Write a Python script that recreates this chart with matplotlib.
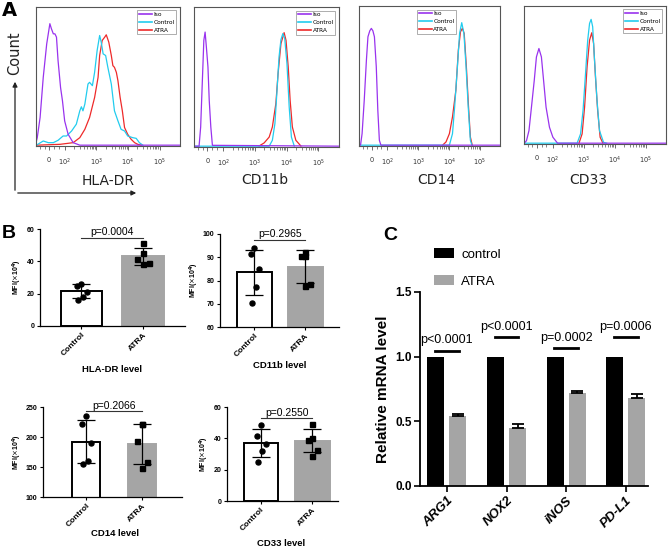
import numpy as np
import matplotlib
matplotlib.use("Agg")
import matplotlib.pyplot as plt

# ---------------- data: panel A (flow histograms) ----------------
# x in "display decades": 0 -> 0, 1e2 -> 0.5, 1e3 -> 1.5, 1e4 -> 2.5, 1e5 -> 3.5
# y as fraction of the histogram box height
hla_iso_x = [-0.42, -0.38, -0.29, -0.19, -0.08, 0.02, 0.07, 0.13, 0.18, 0.23, 0.28, 0.36, 0.42, 0.49, 0.6, 0.76, 0.97, 4.15]
hla_iso_y = [0.024, 0.06, 0.205, 0.494, 0.735, 0.88, 0.843, 0.807, 0.807, 0.783, 0.614, 0.42, 0.325, 0.18, 0.084, 0.024, 0.006, 0.006]
hla_ctrl_x = [-0.4, -0.19, -0.03, 0.13, 0.28, 0.44, 0.55, 0.71, 0.86, 0.97, 1.02, 1.07, 1.13, 1.23, 1.28, 1.37, 1.44, 1.52, 1.6, 1.65, 1.71, 1.79, 1.86, 1.97, 2.07, 2.18, 2.28, 2.39, 2.49, 2.65, 2.76, 2.86, 2.97]
hla_ctrl_y = [0.007, 0.036, 0.024, 0.024, 0.041, 0.072, 0.072, 0.108, 0.157, 0.253, 0.282, 0.253, 0.301, 0.446, 0.458, 0.434, 0.53, 0.687, 0.795, 0.747, 0.663, 0.651, 0.566, 0.446, 0.253, 0.181, 0.12, 0.108, 0.072, 0.06, 0.055, 0.024, 0.006]
hla_atra_x = [-0.4, 0.34, 0.76, 0.97, 1.13, 1.28, 1.44, 1.55, 1.6, 1.68, 1.76, 1.81, 1.89, 1.97, 2.02, 2.07, 2.13, 2.18, 2.25, 2.32, 2.39, 2.49, 2.6, 2.71, 2.81, 2.92]
hla_atra_y = [0.006, 0.012, 0.024, 0.06, 0.12, 0.205, 0.349, 0.494, 0.651, 0.759, 0.783, 0.8, 0.747, 0.651, 0.578, 0.566, 0.53, 0.47, 0.349, 0.253, 0.133, 0.084, 0.048, 0.024, 0.012, 0.006]

cd11b_iso_x = [-0.42, -0.26, -0.21, -0.16, -0.11, -0.07, -0.03, 0.02, 0.06, 0.11, 0.16, 4.15]
cd11b_iso_y = [0.006, 0.006, 0.143, 0.452, 0.762, 0.821, 0.714, 0.571, 0.333, 0.143, 0.012, 0.006]
cd11b_ctrl_x = [-0.42, 1.95, 2.05, 2.13, 2.19, 2.26, 2.32, 2.38, 2.44, 2.51, 2.58, 2.65, 2.74]
cd11b_ctrl_y = [0.006, 0.006, 0.048, 0.167, 0.381, 0.643, 0.767, 0.81, 0.774, 0.595, 0.286, 0.071, 0.007]
cd11b_atra_x = [1.63, 1.79, 1.95, 2.05, 2.16, 2.23, 2.32, 2.42, 2.48, 2.55, 2.61, 2.68, 2.79, 2.95]
cd11b_atra_y = [0.007, 0.029, 0.071, 0.143, 0.31, 0.524, 0.738, 0.817, 0.762, 0.571, 0.333, 0.143, 0.048, 0.007]

cd14_iso_x = [-0.42, -0.37, -0.32, -0.25, -0.18, -0.13, -0.07, -0.02, 0.03, 0.08, 0.14, 0.19, 0.24, 0.29, 4.15]
cd14_iso_y = [0.006, 0.006, 0.088, 0.327, 0.613, 0.78, 0.823, 0.84, 0.823, 0.78, 0.566, 0.255, 0.041, 0.006, 0.006]
cd14_ctrl_x = [-0.42, 2.51, 2.61, 2.68, 2.77, 2.84, 2.91, 2.98, 3.05, 3.12, 3.19, 3.24]
cd14_ctrl_y = [0.006, 0.006, 0.088, 0.279, 0.566, 0.804, 0.881, 0.804, 0.566, 0.279, 0.041, 0.006]
cd14_atra_x = [2.29, 2.4, 2.51, 2.61, 2.72, 2.8, 2.87, 2.93, 2.99, 3.06, 3.13, 3.19, 3.25]
cd14_atra_y = [0.006, 0.029, 0.088, 0.208, 0.399, 0.685, 0.816, 0.84, 0.804, 0.566, 0.279, 0.064, 0.006]

cd33_iso_x = [-0.41, -0.34, -0.26, -0.18, -0.09, -0.02, 0.06, 0.14, 0.22, 0.29, 0.4, 0.51, 0.66, 4.15]
cd33_iso_y = [0.006, 0.024, 0.097, 0.267, 0.461, 0.631, 0.692, 0.631, 0.437, 0.267, 0.121, 0.049, 0.006, 0.006]
cd33_ctrl_x = [-0.41, 1.29, 1.4, 1.48, 1.56, 1.63, 1.69, 1.74, 1.79, 1.85, 1.93, 2.01, 2.14, 2.24]
cd33_ctrl_y = [0.006, 0.006, 0.073, 0.243, 0.51, 0.752, 0.874, 0.903, 0.85, 0.607, 0.316, 0.097, 0.012, 0.006]
cd33_atra_x = [1.35, 1.45, 1.53, 1.61, 1.69, 1.76, 1.82, 1.88, 1.95, 2.03, 2.12]
cd33_atra_y = [0.006, 0.073, 0.267, 0.558, 0.752, 0.806, 0.728, 0.485, 0.243, 0.049, 0.006]

flow_markers = ["HLA-DR", "CD11b", "CD14", "CD33"]
flow_tick_labels = ["0", r"$10^2$", r"$10^3$", r"$10^4$", r"$10^5$"]

# ---------------- data: panel B (MFI) ----------------
mfi_titles = ["HLA-DR level", "CD11b level", "CD14 level", "CD33 level"]
mfi_groups = ["Control", "ATRA"]
hla_ctrl_pts = [26.1, 24.5, 20.9, 17.8, 16.2]
hla_atra_pts = [51.4, 45.2, 41.2, 39.0, 38.1]
cd11b_ctrl_pts = [93.8, 91.3, 85.0, 77.1, 70.2]
cd11b_atra_pts = [92.1, 90.6, 90.5, 78.5, 77.5]
cd14_ctrl_pts = [235.6, 221.7, 190.0, 160.6, 155.0]
cd14_atra_pts = [222.2, 221.1, 192.8, 158.9, 148.3]
cd33_ctrl_pts = [48.3, 41.3, 36.4, 32.1, 25.1]
cd33_atra_pts = [49.4, 40.0, 38.9, 32.6, 28.9]
mfi_means = [[21.4, 43.2], [83.5, 85.9], [192.5, 188.7], [37.0, 38.4]]
mfi_sds = [[4.3, 5.3], [9.6, 7.1], [35.5, 33.5], [8.7, 7.3]]
mfi_pvals = ["p=0.0004", "p=0.2965", "p=0.2066", "p=0.2550"]
mfi_sig_y = [54.5, 97.5, 243.0, 52.8]

# ---------------- data: panel C (qPCR) ----------------
genes = ["ARG1", "NOX2", "iNOS", "PD-L1"]
ctrl_mrna = [1.0, 1.0, 1.0, 1.0]
atra_mrna = [0.538, 0.451, 0.718, 0.677]
atra_mrna_err = [0.021, 0.028, 0.020, 0.036]
mrna_pvals = ["p<0.0001", "p<0.0001", "p=0.0002", "p=0.0006"]
mrna_sig_y = [1.046, 1.149, 1.064, 1.149]

# ---------------- figure ----------------
W, H = 668, 547
fig = plt.figure(figsize=(W / 100, H / 100), dpi=100)


def rect(x0, y0, x1, y1):
    # pixel box (top-left origin) -> figure fraction
    return [x0 / W, 1 - y1 / H, (x1 - x0) / W, (y1 - y0) / H]


def ftxt(x, y, s, **kw):
    fig.text(x / W, 1 - y / H, s, **kw)


ISO_C, CTRL_C, ATRA_C = "#9933ee", "#22ccee", "#ee2a2a"

# ---- panel A ----
flow_boxes = [(36, 7, 180, 146), (194, 7, 339, 147), (359, 6, 500, 146), (524, 6, 666, 144)]
flow_curves = [
    (hla_iso_x, hla_iso_y, hla_ctrl_x, hla_ctrl_y, hla_atra_x, hla_atra_y),
    (cd11b_iso_x, cd11b_iso_y, cd11b_ctrl_x, cd11b_ctrl_y, cd11b_atra_x, cd11b_atra_y),
    (cd14_iso_x, cd14_iso_y, cd14_ctrl_x, cd14_ctrl_y, cd14_atra_x, cd14_atra_y),
    (cd33_iso_x, cd33_iso_y, cd33_ctrl_x, cd33_ctrl_y, cd33_atra_x, cd33_atra_y),
]
legend_right = [0.975, 0.975, 0.69, 0.975]
label_pos = [(108, 181), (265, 180), (436, 180), (588, 180)]

minor_u = []
for d in (2, 3, 4):
    for k in range(2, 10):
        minor_u.append(d - 1.5 + np.log10(k))
minor_u += [-0.3, -0.15, 0.15, 0.3]

for i, box in enumerate(flow_boxes):
    ax = fig.add_axes(rect(*box))
    ix, iy, cx, cy, ax_, ay = flow_curves[i]
    l3, = ax.plot(ax_, ay, color=ATRA_C, lw=0.9)
    l2, = ax.plot(cx, cy, color=CTRL_C, lw=0.9)
    l1, = ax.plot(ix, iy, color=ISO_C, lw=0.9)
    ax.set_xlim(-0.42, 4.15)
    ax.set_ylim(0, 1.0)
    ax.set_yticks([])
    ax.set_xticks([0, 0.5, 1.5, 2.5, 3.5])
    ax.set_xticklabels(flow_tick_labels, fontsize=4.8, color="#333333")
    ax.set_xticks(minor_u, minor=True)
    ax.tick_params(axis="x", which="major", length=3, width=0.6, pad=5, color="#555555")
    ax.tick_params(axis="x", which="minor", length=2, width=0.5, color="#555555")
    for sp in ax.spines.values():
        sp.set_color("#555555")
        sp.set_linewidth(0.8)
    leg = ax.legend([l1, l2, l3], ["Iso", "Control", "ATRA"], loc="upper right",
                    bbox_to_anchor=(legend_right[i], 0.975), fontsize=4.2, frameon=True,
                    fancybox=False, edgecolor="#888888", handlelength=2.2, borderpad=0.3,
                    labelspacing=0.45, handletextpad=0.3, borderaxespad=0)
    leg.get_frame().set_linewidth(0.6)
    for ln in leg.get_lines():
        ln.set_linewidth(1.2)
    ftxt(label_pos[i][0], label_pos[i][1], flow_markers[i], fontsize=10,
         ha="center", va="center", color="#222222")

ftxt(15, 53, "Count", rotation=90, fontsize=10.5, ha="center", va="center", color="#222222")
fig.add_artist(matplotlib.patches.FancyArrowPatch(
    (15 / W, 1 - 193 / H), (15 / W, 1 - 79 / H), transform=fig.transFigure,
    arrowstyle="-|>", mutation_scale=7, lw=0.9, color="#222222"))
fig.add_artist(matplotlib.patches.FancyArrowPatch(
    (15 / W, 1 - 193 / H), (139 / W, 1 - 193 / H), transform=fig.transFigure,
    arrowstyle="-|>", mutation_scale=7, lw=0.9, color="#222222"))
ftxt(9, 11, "A", fontsize=14, fontweight="bold", ha="center", va="center")

# ---- panel B ----
plt.rcParams["font.family"] = ["Liberation Sans", "DejaVu Sans"]
mfi_boxes = [(40, 229, 185, 326), (220, 234, 339, 327), (43, 407, 182, 497), (227, 407, 338, 501)]
mfi_ylims = [(0, 60), (60, 100), (100, 250), (0, 60)]
mfi_yticks = [[0, 20, 40, 60], [60, 70, 80, 90, 100], [100, 150, 200, 250], [0, 20, 40, 60]]
mfi_xlims = [(-0.67, 1.68), (-0.68, 1.67), (-0.77, 1.71), (-0.66, 1.5)]
mfi_widths = [0.67, 0.69, 0.5, 0.67]
mfi_pts = [(hla_ctrl_pts, hla_atra_pts), (cd11b_ctrl_pts, cd11b_atra_pts),
           (cd14_ctrl_pts, cd14_atra_pts), (cd33_ctrl_pts, cd33_atra_pts)]
title_pos = [(112, 369), (280, 365), (115, 533), (281, 543)]
ctrl_jit = [0.0, -0.07, 0.09, 0.03, -0.05]
atra_jit = [0.0, 0.0, -0.09, 0.09, 0.0]
GRAY = "#a5a5a5"

for i, box in enumerate(mfi_boxes):
    ax = fig.add_axes(rect(*box))
    ax.bar([0, 1], mfi_means[i], width=mfi_widths[i], color=["white", GRAY],
           edgecolor=["black", GRAY], linewidth=1.4, zorder=1)
    ax.errorbar([0, 1], mfi_means[i], yerr=mfi_sds[i], fmt="none", ecolor="black",
                elinewidth=0.9, capsize=6.5, capthick=0.9, zorder=3)
    cp, ap = mfi_pts[i]
    ax.plot(np.array(ctrl_jit) + 0, cp, "o", color="black", ms=3.6, zorder=4, clip_on=False)
    ax.plot(np.array(atra_jit) + 1, ap, "s", color="black", ms=3.6, zorder=4, clip_on=False)
    ax.set_xlim(*mfi_xlims[i])
    ax.set_ylim(*mfi_ylims[i])
    ax.set_yticks(mfi_yticks[i])
    ax.set_xticks([0, 1])
    ax.set_xticklabels(mfi_groups, rotation=45, ha="right", va="top",
                       rotation_mode="anchor", fontsize=6, fontweight="bold")
    for lab in ax.get_yticklabels():
        lab.set_fontsize(5)
        lab.set_fontweight("bold")
    ax.tick_params(length=2.5, width=0.8, pad=1.5)
    ax.spines["top"].set_visible(False)
    ax.spines["right"].set_visible(False)
    ax.spines["left"].set_linewidth(0.9)
    ax.spines["bottom"].set_linewidth(0.9)
    ax.set_ylabel(r"MFI($\times$10$^{\mathbf{4}}$)", fontsize=5, fontweight="bold", labelpad=1.5)
    ax.plot([0, 1], [mfi_sig_y[i], mfi_sig_y[i]], color="#333333", lw=0.8, clip_on=False)
    ax.annotate(mfi_pvals[i], (0.5, mfi_sig_y[i]), xytext=(0, 0.5), textcoords="offset points",
                ha="center", va="bottom", fontsize=7.5, annotation_clip=False)
    ftxt(title_pos[i][0], title_pos[i][1], mfi_titles[i], fontsize=6.8,
         fontweight="bold", ha="center", va="center")

ftxt(9, 233, "B", fontsize=14, fontweight="bold", ha="center", va="center")

# ---- panel C ----
axc = fig.add_axes(rect(420, 292, 648, 486))
xg = np.arange(len(genes))
off, bw = 0.185, 0.285
bc = axc.bar(xg - off, ctrl_mrna, width=bw, color="black", label="control")
ba = axc.bar(xg + off, atra_mrna, width=bw, color=GRAY, label="ATRA")
axc.errorbar(xg + off, atra_mrna, yerr=[np.zeros(len(genes)), atra_mrna_err], fmt="none",
             ecolor="black", elinewidth=1.3, capsize=4, capthick=1.3)
for i in range(len(genes)):
    axc.plot([xg[i] - 0.2, xg[i] + 0.2], [mrna_sig_y[i], mrna_sig_y[i]], color="black", lw=2)
    axc.text(xg[i], mrna_sig_y[i] + 0.035, mrna_pvals[i], ha="center", va="bottom", fontsize=9)
axc.set_xlim(-0.45, 3.37)
axc.set_ylim(0, 1.5)
axc.set_yticks([0, 0.5, 1.0, 1.5])
axc.set_yticklabels(["0.0", "0.5", "1.0", "1.5"], fontsize=8.5, fontweight="bold")
axc.set_xticks(xg)
axc.set_xticklabels(genes, rotation=45, ha="right", va="top", rotation_mode="anchor",
                    fontsize=9.5, fontweight="bold", fontstyle="italic")
axc.tick_params(length=4, width=1.2, pad=2)
axc.spines["top"].set_visible(False)
axc.spines["right"].set_visible(False)
axc.spines["left"].set_linewidth(1.3)
axc.spines["bottom"].set_linewidth(1.3)
axc.set_ylabel("Relative mRNA level", fontsize=11, fontweight="bold", labelpad=4)
axc.legend(handles=[bc, ba], loc="upper left", bbox_to_anchor=(434 / W, 1 - 248 / H),
           bbox_transform=fig.transFigure, frameon=False, fontsize=9.5, handlelength=1.5,
           handleheight=0.8, labelspacing=1.1, handletextpad=0.55, borderpad=0, borderaxespad=0)
ftxt(390, 236, "C", fontsize=14, fontweight="bold", ha="center", va="center")

fig.savefig("out.png", dpi=100)
